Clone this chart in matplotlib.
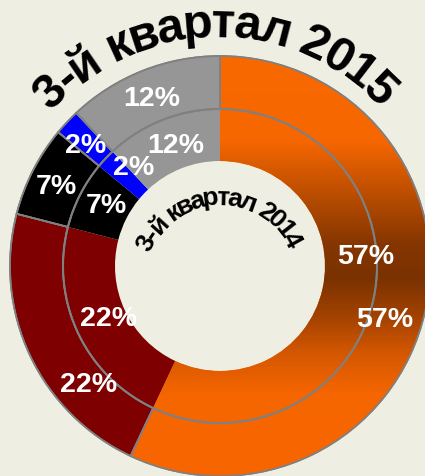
#!/usr/bin/env python3
"""Two-ring donut: share by segment, Q3 2015 (outer) vs Q3 2014 (inner)."""

import matplotlib

matplotlib.use("Agg")
import matplotlib.pyplot as plt
import numpy as np
from matplotlib.colors import LinearSegmentedColormap
from matplotlib.patches import Circle, Wedge
from matplotlib.textpath import TextToPath

plt.rcParams["font.family"] = ["Liberation Sans", "DejaVu Sans"]

# data
segments = ["orange", "darkred", "black", "blue", "gray"]
pct_2015 = [57, 22, 7, 2, 12]
pct_2014 = [57, 22, 7, 2, 12]
colors = ["#F86600", "#7F0000", "#000000", "#0000FF", "#969696"]
title_2015 = "3-й квартал 2015"
title_2014 = "3-й квартал 2014"

# label placement (radius px, angle deg) per slice
outer_label_pos = [(173, -18), (177, -138), (182, 154), (181, 138), (181, 112)]
inner_label_pos = [(146, 4), (123, -155), (129, 152), (131, 131), (129, 110)]

W, H = 425, 477
CX, CY = 220, H - 267
R_OUT, R_MID, R_IN = 210, 157, 105
BG = "#EFEEE2"
EDGE = "#808080"


def curved_text(ax, text, center, radius, a_start, a_end, size):
    prop = matplotlib.font_manager.FontProperties(family="Liberation Sans", weight="bold", size=size)
    t2p = TextToPath()
    widths = [t2p.get_text_width_height_descent(text[:i], prop, ismath=False)[0] for i in range(len(text) + 1)]
    mids = [(widths[i] + widths[i + 1]) / 2 for i in range(len(text))]
    span = mids[-1] - mids[0]
    for ch, m in zip(text, mids):
        a = a_start + (a_end - a_start) * (m - mids[0]) / span
        x = center[0] + radius * np.cos(np.radians(a))
        y = center[1] + radius * np.sin(np.radians(a))
        ax.text(x, y, ch, fontproperties=prop, rotation=a - 90, rotation_mode="anchor",
                ha="center", va="baseline", color="black", zorder=6)


fig = plt.figure(figsize=(W / 100, H / 100), dpi=100)
fig.patch.set_facecolor(BG)
ax = fig.add_axes([0, 0, 1, 1])
ax.set_facecolor(BG)

outer, _ = ax.pie(pct_2015, colors=colors, radius=R_OUT, center=(CX, CY), startangle=90,
                  counterclock=False, wedgeprops=dict(width=R_OUT - R_MID, edgecolor=EDGE, linewidth=1.2))
inner, _ = ax.pie(pct_2014, colors=colors, radius=R_MID, center=(CX, CY), startangle=90,
                  counterclock=False, wedgeprops=dict(width=R_MID - R_IN, linewidth=0))

# vertical orange -> brown -> orange gradient on the biggest slice
grad = LinearSegmentedColormap.from_list("og", [
    (0.0, "#FA6A00"), (140 / H, "#F76700"), (200 / H, "#B54B00"), (245 / H, "#853600"),
    (280 / H, "#7A3200"), (320 / H, "#A54300"), (355 / H, "#D45700"), (395 / H, "#F56500"),
    (1.0, "#F86600")])
col = np.linspace(0, 1, 200)[:, None]
for w in (outer[0], inner[0]):
    im = ax.imshow(col, cmap=grad, extent=(0, W, 0, H), origin="upper", aspect="auto", zorder=2)
    im.set_clip_path(w)

for w in outer:
    ax.add_patch(Wedge(w.center, w.r, w.theta1, w.theta2, width=w.width, fill=False,
                       edgecolor=EDGE, linewidth=1.2, zorder=3))
ax.add_patch(Circle((CX, CY), R_MID, fill=False, edgecolor=EDGE, linewidth=1.5, zorder=3))

for pos_list, vals in ((outer_label_pos, pct_2015), (inner_label_pos, pct_2014)):
    for (r, a), v in zip(pos_list, vals):
        ax.text(CX + r * np.cos(np.radians(a)), CY + r * np.sin(np.radians(a)), f"{v}%",
                color="white", fontsize=20.5, fontweight="bold", ha="center", va="center", zorder=5)

curved_text(ax, title_2015, (217, H - 258), 221, 135, 46, 35)
curved_text(ax, title_2014, (220, H - 280), 75, 153, 29, 19)

ax.set_xlim(0, W)
ax.set_ylim(0, H)
ax.axis("off")
fig.savefig("out.png", dpi=100, facecolor=BG)
